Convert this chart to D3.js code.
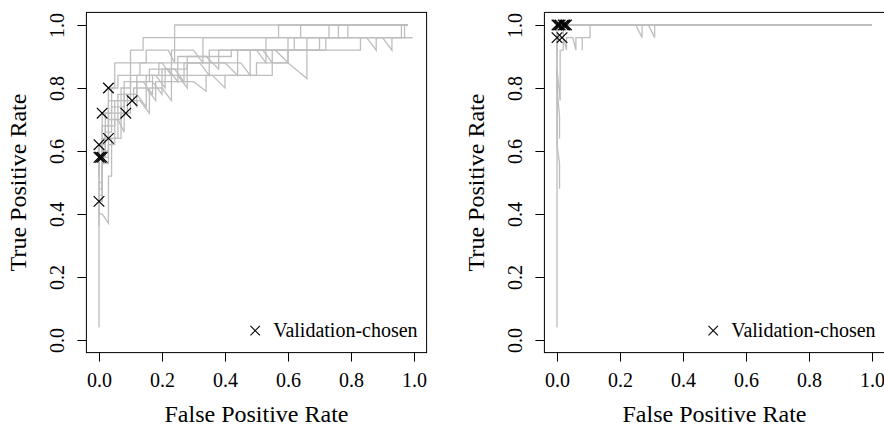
<!DOCTYPE html>
<html>
<head>
<meta charset="utf-8">
<script src="https://cdn.jsdelivr.net/npm/d3@7"></script>
<style>
  body { margin: 0; background: #fff; }
  svg, svg text { font-family: "Liberation Serif", "Times New Roman", Times, "DejaVu Serif", serif; }
</style>
</head>
<body>
<svg id="chart" width="884" height="426"></svg>
<script>
/*
    Two ROC panels: grey curves per fold, black crosses for validation-chosen points
 */

const FONT = "'Liberation Serif', 'Times New Roman', Times, 'DejaVu Serif', serif";

// axis ticks
const tickValues = [0, 0.2, 0.4, 0.6, 0.8, 1.0];
const tickLabels = ["0.0", "0.2", "0.4", "0.6", "0.8", "1.0"];

// left panel ROC curves, [fpr, tpr]
const leftCurves = [
    [[0,0.04],[0,0.44],[0.01,0.44],[0.01,0.56],[0.03,0.56],[0.03,0.62],[0.05,0.62],[0.05,0.70],[0.07,0.70],[0.07,0.76],[0.11,0.76],[0.11,0.80],[0.15,0.80],[0.18,0.76],[0.18,0.82],[0.30,0.82],[0.34,0.79],[0.34,0.84],[0.50,0.84],[0.50,0.88],[0.60,0.88],[0.66,0.83],[0.66,0.92],[0.83,0.92],[0.83,0.96],[0.995,0.96]],
    [[0,0.36],[0,0.62],[0.02,0.62],[0.02,0.72],[0.04,0.72],[0.04,0.80],[0.06,0.80],[0.06,0.84],[0.10,0.84],[0.10,0.88],[0.15,0.88],[0.15,0.92],[0.22,0.92],[0.24,0.88],[0.24,0.96],[0.57,0.96],[0.57,1.0],[0.98,1.0]],
    [[0,0.48],[0.01,0.48],[0.01,0.58],[0.02,0.58],[0.02,0.68],[0.05,0.68],[0.05,0.76],[0.08,0.76],[0.08,0.82],[0.14,0.82],[0.17,0.78],[0.17,0.84],[0.25,0.84],[0.28,0.80],[0.28,0.88],[0.40,0.88],[0.44,0.84],[0.44,0.92],[0.62,0.92],[0.62,0.96],[0.85,0.96],[0.88,0.92],[0.88,0.96],[0.97,0.96],[0.97,1.0],[0.98,1.0]],
    [[0,0.40],[0.01,0.40],[0.03,0.37],[0.03,0.52],[0.04,0.52],[0.04,0.64],[0.07,0.64],[0.07,0.72],[0.10,0.72],[0.10,0.76],[0.13,0.76],[0.16,0.72],[0.16,0.80],[0.20,0.80],[0.23,0.76],[0.23,0.84],[0.36,0.84],[0.40,0.80],[0.40,0.84],[0.55,0.84],[0.55,0.88],[0.60,0.88],[0.60,0.92],[0.72,0.92],[0.72,0.96],[0.96,0.96],[0.96,1.0],[0.98,1.0]],
    [[0,0.52],[0,0.62],[0.01,0.62],[0.01,0.72],[0.03,0.72],[0.03,0.80],[0.05,0.80],[0.05,0.88],[0.10,0.88],[0.10,0.92],[0.14,0.92],[0.14,0.96],[0.24,0.96],[0.24,1.0],[0.98,1.0]],
    [[0,0.44],[0.01,0.44],[0.01,0.58],[0.03,0.58],[0.03,0.64],[0.06,0.64],[0.06,0.72],[0.09,0.72],[0.09,0.78],[0.12,0.78],[0.12,0.84],[0.18,0.84],[0.21,0.80],[0.21,0.86],[0.24,0.86],[0.27,0.82],[0.27,0.88],[0.45,0.88],[0.48,0.84],[0.48,0.92],[0.70,0.92],[0.70,0.96],[0.76,0.96],[0.76,1.0],[0.98,1.0]],
    [[0,0.50],[0.01,0.50],[0.01,0.64],[0.03,0.64],[0.03,0.70],[0.06,0.70],[0.08,0.66],[0.08,0.76],[0.10,0.76],[0.10,0.82],[0.16,0.82],[0.16,0.86],[0.22,0.86],[0.25,0.82],[0.25,0.90],[0.34,0.90],[0.38,0.86],[0.38,0.92],[0.56,0.92],[0.60,0.88],[0.60,0.96],[0.64,0.96],[0.64,1.0],[0.98,1.0]],
    [[0,0.58],[0.02,0.58],[0.02,0.66],[0.04,0.66],[0.04,0.74],[0.08,0.74],[0.08,0.78],[0.12,0.78],[0.15,0.74],[0.15,0.84],[0.19,0.84],[0.19,0.88],[0.32,0.88],[0.35,0.84],[0.35,0.92],[0.50,0.92],[0.53,0.88],[0.53,0.96],[0.79,0.96],[0.79,1.0],[0.98,1.0]],
    [[0,0.40],[0,0.58],[0.01,0.58],[0.01,0.68],[0.03,0.68],[0.03,0.76],[0.07,0.76],[0.07,0.80],[0.10,0.80],[0.10,0.84],[0.13,0.84],[0.13,0.88],[0.20,0.88],[0.23,0.84],[0.23,0.92],[0.30,0.92],[0.33,0.88],[0.33,0.96],[0.73,0.96],[0.73,1.0],[0.98,1.0]],
    [[0,0.46],[0.01,0.46],[0.01,0.60],[0.03,0.60],[0.03,0.72],[0.06,0.72],[0.06,0.78],[0.09,0.78],[0.12,0.74],[0.12,0.82],[0.17,0.82],[0.20,0.78],[0.20,0.86],[0.28,0.86],[0.28,0.90],[0.42,0.90],[0.42,0.92],[0.52,0.92],[0.55,0.88],[0.55,0.92],[0.66,0.92],[0.66,0.96],[0.90,0.96],[0.93,0.92],[0.93,0.96],[0.995,0.96]]
];
const leftChosenFpr = [0, 0, 0.01, 0, 0.03, 0.01, 0.03, 0.085, 0.105, 0.005];
const leftChosenTpr = [0.44, 0.58, 0.58, 0.62, 0.64, 0.72, 0.80, 0.72, 0.76, 0.58];

// right panel ROC curves
const rightCurves = [
    [[0,0.04],[0,1.0],[1.0,1.0]],
    [[0.008,0.48],[0.008,0.56],[0,0.62],[0,0.96],[0.02,0.96],[0.02,1.0],[1.0,1.0]],
    [[0.008,0.64],[0.008,0.71],[0,0.80],[0,0.86],[0.01,0.76],[0.01,0.92],[0.02,0.92],[0.02,0.96],[0.03,0.92],[0.03,0.96],[0.05,0.96],[0.06,0.92],[0.06,0.96],[0.08,0.96],[0.08,0.92],[0.08,0.96],[0.105,0.96],[0.105,1.0],[1.0,1.0]],
    [[0,0.90],[0,1.0],[0.25,1.0],[0.27,0.96],[0.27,1.0],[0.29,1.0],[0.31,0.96],[0.31,1.0],[1.0,1.0]]
];
const rightChosenFpr = [0, 0.01, 0.02, 0.03, 0, 0.016, 0.005, 0.025];
const rightChosenTpr = [1.0, 1.0, 1.0, 1.0, 0.96, 0.96, 1.0, 1.0];

const svg = d3.select("#chart").attr("font-family", FONT);
const BOX = 340.2;

function drawPanel(left, top, curves, chosenFpr, chosenTpr) {
    let g = svg.append("g");
    let x = d3.scaleLinear().domain([-0.04, 1.04]).range([left, left + BOX]);
    let y = d3.scaleLinear().domain([-0.04, 1.04]).range([top + BOX, top]);

    let line = d3.line().x(d => x(d[0])).y(d => y(d[1]));

    // grey ROC curves
    g.selectAll(".roc").data(curves).enter().append("path")
        .attr("class", "roc")
        .attr("d", line)
        .attr("fill", "none")
        .attr("stroke", "#bebebe")
        .attr("stroke-width", 1.3);

    // chosen points as crosses
    let pts = chosenFpr.map((f, i) => [f, chosenTpr[i]]);
    let cross = d3.symbol().type(d3.symbolX).size(75);
    g.selectAll(".chosen").data(pts).enter().append("path")
        .attr("class", "chosen")
        .attr("d", cross)
        .attr("transform", d => `translate(${x(d[0])},${y(d[1])})`)
        .attr("fill", "none")
        .attr("stroke", "#000")
        .attr("stroke-width", 1.2);

    // box
    g.append("rect")
        .attr("x", left).attr("y", top)
        .attr("width", BOX).attr("height", BOX)
        .attr("fill", "none").attr("stroke", "#000").attr("stroke-width", 1);

    // x axis
    let xAxis = g.append("g")
        .attr("transform", `translate(0,${top + BOX})`)
        .call(d3.axisBottom(x).tickValues(tickValues)
            .tickFormat((d, i) => tickLabels[i]).tickSize(9).tickSizeOuter(0));
    xAxis.select(".domain").remove();
    xAxis.attr("font-family", FONT).attr("font-size", 20);
    xAxis.selectAll("text").attr("y", 34).attr("dy", null)
        .attr("font-family", FONT).attr("fill", "#000");

    // y axis, labels turned like R's las=0
    let yAxis = g.append("g")
        .attr("transform", `translate(${left},0)`)
        .call(d3.axisLeft(y).tickValues(tickValues)
            .tickFormat((d, i) => tickLabels[i]).tickSize(9).tickSizeOuter(0));
    yAxis.select(".domain").remove();
    yAxis.attr("font-family", FONT).attr("font-size", 20);
    yAxis.selectAll("text")
        .attr("x", null).attr("dy", null)
        .attr("text-anchor", "middle")
        .attr("transform", "translate(-22,0) rotate(-90)")
        .attr("font-family", FONT).attr("fill", "#000");

    // axis titles
    g.append("text")
        .attr("x", x(0.5)).attr("y", top + BOX + 69)
        .attr("text-anchor", "middle").attr("font-size", 24)
        .attr("font-family", FONT)
        .text("False Positive Rate");
    g.append("text")
        .attr("transform", `translate(${left - 60},${y(0.5)}) rotate(-90)`)
        .attr("text-anchor", "middle").attr("font-size", 24)
        .attr("font-family", FONT)
        .text("True Positive Rate");

    // legend, bottom right
    let lg = g.append("g");
    let label = lg.append("text")
        .attr("x", left + BOX - 9).attr("y", top + BOX - 16)
        .attr("text-anchor", "end").attr("font-size", 20)
        .attr("font-family", FONT)
        .text("Validation-chosen");
    let w = label.node().getComputedTextLength();
    lg.append("path")
        .attr("d", d3.symbol().type(d3.symbolX).size(60))
        .attr("transform", `translate(${left + BOX - 9 - w - 18},${top + BOX - 22})`)
        .attr("fill", "none").attr("stroke", "#000").attr("stroke-width", 1.1);
}

drawPanel(86.4, 12.4, leftCurves, leftChosenFpr, leftChosenTpr);
drawPanel(544.4, 12.4, rightCurves, rightChosenFpr, rightChosenTpr);
</script>
</body>
</html>
